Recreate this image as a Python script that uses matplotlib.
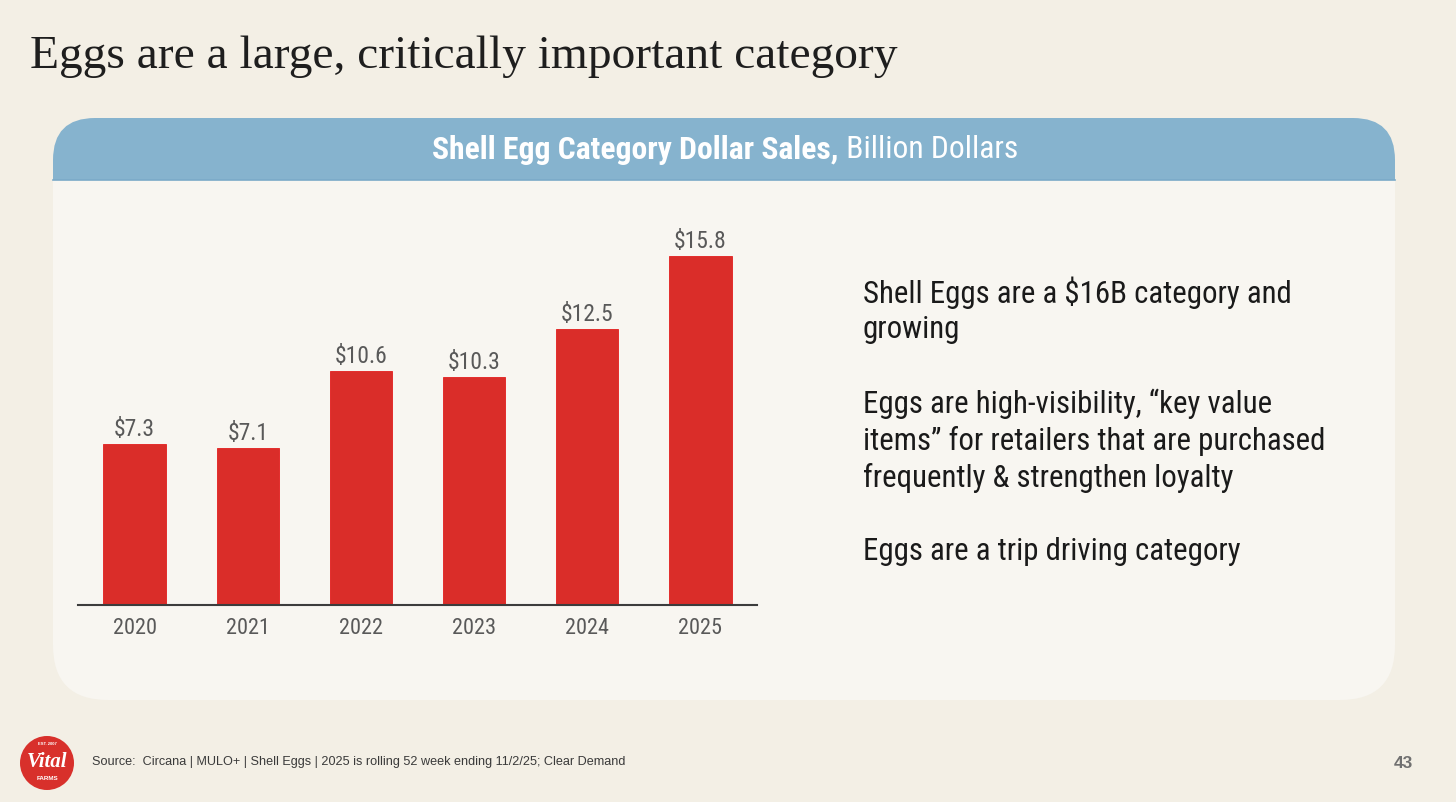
import matplotlib
matplotlib.use("Agg")
import matplotlib.pyplot as plt
from matplotlib import font_manager
from matplotlib.patches import FancyBboxPatch, Rectangle, Circle

# ---------------- data ----------------
years = ["2020", "2021", "2022", "2023", "2024", "2025"]
sales = [7.3, 7.1, 10.6, 10.3, 12.5, 15.8]
bar_labels = ["$7.3", "$7.1", "$10.6", "$10.3", "$12.5", "$15.8"]

title = "Eggs are a large, critically important category"
header_bold = "Shell Egg Category Dollar Sales,"
header_regular = " Billion Dollars"
bullet_lines = [
    "Shell Eggs are a $16B category and",
    "growing",
    "",
    "Eggs are high-visibility, \u201ckey value",
    "items\u201d for retailers that are purchased",
    "frequently & strengthen loyalty",
    "",
    "Eggs are a trip driving category",
]
source = "Source:  Circana | MULO+ | Shell Eggs | 2025 is rolling 52 week ending 11/2/25; Clear Demand"
page_no = "43"

# ---------------- fonts ----------------
avail = {f.name for f in font_manager.fontManager.ttflist}
def pick(cands):
    for c in cands:
        if c in avail:
            return c
    return "DejaVu Sans"
COND = pick(["Roboto Condensed", "Liberation Sans Narrow", "Open Sans Condensed", "Roboto"])
SERIF = pick(["Liberation Serif", "DejaVu Serif"])
ARIAL = pick(["Liberation Sans", "DejaVu Sans"])

W, H = 1456, 802
fig = plt.figure(figsize=(W / 100, H / 100), dpi=100)
fig.patch.set_facecolor("#F3EFE5")

bg = fig.add_axes([0, 0, 1, 1], zorder=0)
bg.set_xlim(0, W)
bg.set_ylim(H, 0)
bg.axis("off")
renderer = fig.canvas.get_renderer()

def fit(t, target):
    bb = t.get_window_extent(renderer)
    t.set_fontsize(t.get_fontsize() * target / bb.width)

def width(t):
    return t.get_window_extent(renderer).width

# panel
PX0, PX1, PY0, PY1, HY = 53, 1395, 118, 700, 180
body = "#F8F6F1"
bg.add_patch(FancyBboxPatch((PX0, PY0), PX1 - PX0, PY1 - PY0,
                            boxstyle="round,pad=0,rounding_size=55",
                            fc=body, ec="none"))
bg.add_patch(FancyBboxPatch((PX0, PY0), PX1 - PX0, 120,
                            boxstyle="round,pad=0,rounding_size=42",
                            fc="#86B3CE", ec="none"))
bg.add_patch(Rectangle((PX0, HY), PX1 - PX0, 70, fc=body, ec="none"))
bg.plot([PX0, PX1], [HY, HY], color="#7AAAC8", lw=1.2)

# title
t = bg.text(30, 57, title, family=SERIF, fontsize=34, color="#1E1E1E",
            ha="left", va="center")
fit(t, 870)

# header
hb = bg.text(0, 150, header_bold, family=COND, fontsize=19, fontweight="bold",
             color="white", ha="left", va="center")
hr = bg.text(0, 150, header_regular, family=COND, fontsize=19,
             color="white", ha="left", va="center")
tot = width(hb) + width(hr)
scale = 585 / tot
hb.set_fontsize(hb.get_fontsize() * scale)
hr.set_fontsize(hr.get_fontsize() * scale)
wb = width(hb)
tot = wb + width(hr)
x0 = 725 - tot / 2
hb.set_x(x0)
hr.set_x(x0 + wb)

# right-hand text
y = 293
step = 37
probe = bg.text(863, y, bullet_lines[0], family=COND, fontsize=19, color="#1A1A1A",
                ha="left", va="center")
fit(probe, 428)
fs = probe.get_fontsize()
for i, line in enumerate(bullet_lines[1:], start=1):
    if line:
        bg.text(863, y + i * step, line, family=COND, fontsize=fs, color="#1A1A1A",
                ha="left", va="center")

# footer
bg.text(92, 762, source, family=ARIAL, fontsize=9.1, color="#3A3A3A",
        ha="left", va="center")
bg.text(1413, 763, page_no, family=ARIAL, fontsize=12.5, fontweight="bold",
        color="#707070", ha="right", va="center")

# logo
bg.add_patch(Circle((47, 763), 27, fc="#D8302B", ec="none"))
bg.text(47, 762, "Vital", family=SERIF, fontsize=15, fontstyle="italic",
        fontweight="bold", color="white", ha="center", va="center")
bg.text(47, 744, "EST. 2007", family=ARIAL, fontsize=3, fontweight="bold",
        color="white", ha="center", va="center")
bg.text(47, 779, "FARMS", family=ARIAL, fontsize=4.5, fontweight="bold",
        color="white", ha="center", va="center")

# ---------------- bar chart ----------------
left, right = 78, 757
base, top = 605, 229
ax = fig.add_axes([left / W, (H - base) / H, (right - left) / W, (base - top) / H], zorder=1)
ax.patch.set_alpha(0)
xs = list(range(len(years)))
bars = ax.bar(xs, sales, width=0.55, color="#DA2D29", edgecolor="#E31E1E", linewidth=0.6)
ax.set_xlim(-0.5, len(years) - 0.5)
ax.set_ylim(0, 17)
for s in ["top", "right", "left"]:
    ax.spines[s].set_visible(False)
ax.spines["bottom"].set_color("#3C3C3C")
ax.spines["bottom"].set_linewidth(1.5)
ax.set_yticks([])
ax.set_xticks(xs)
ax.set_xticklabels(years, family=COND, fontsize=16, color="#595959")
ax.tick_params(axis="x", length=0, pad=9)
ax.bar_label(bars, labels=bar_labels, padding=2, family=COND, fontsize=17, color="#595959")

fig.savefig("out.png", dpi=100, facecolor=fig.get_facecolor())
